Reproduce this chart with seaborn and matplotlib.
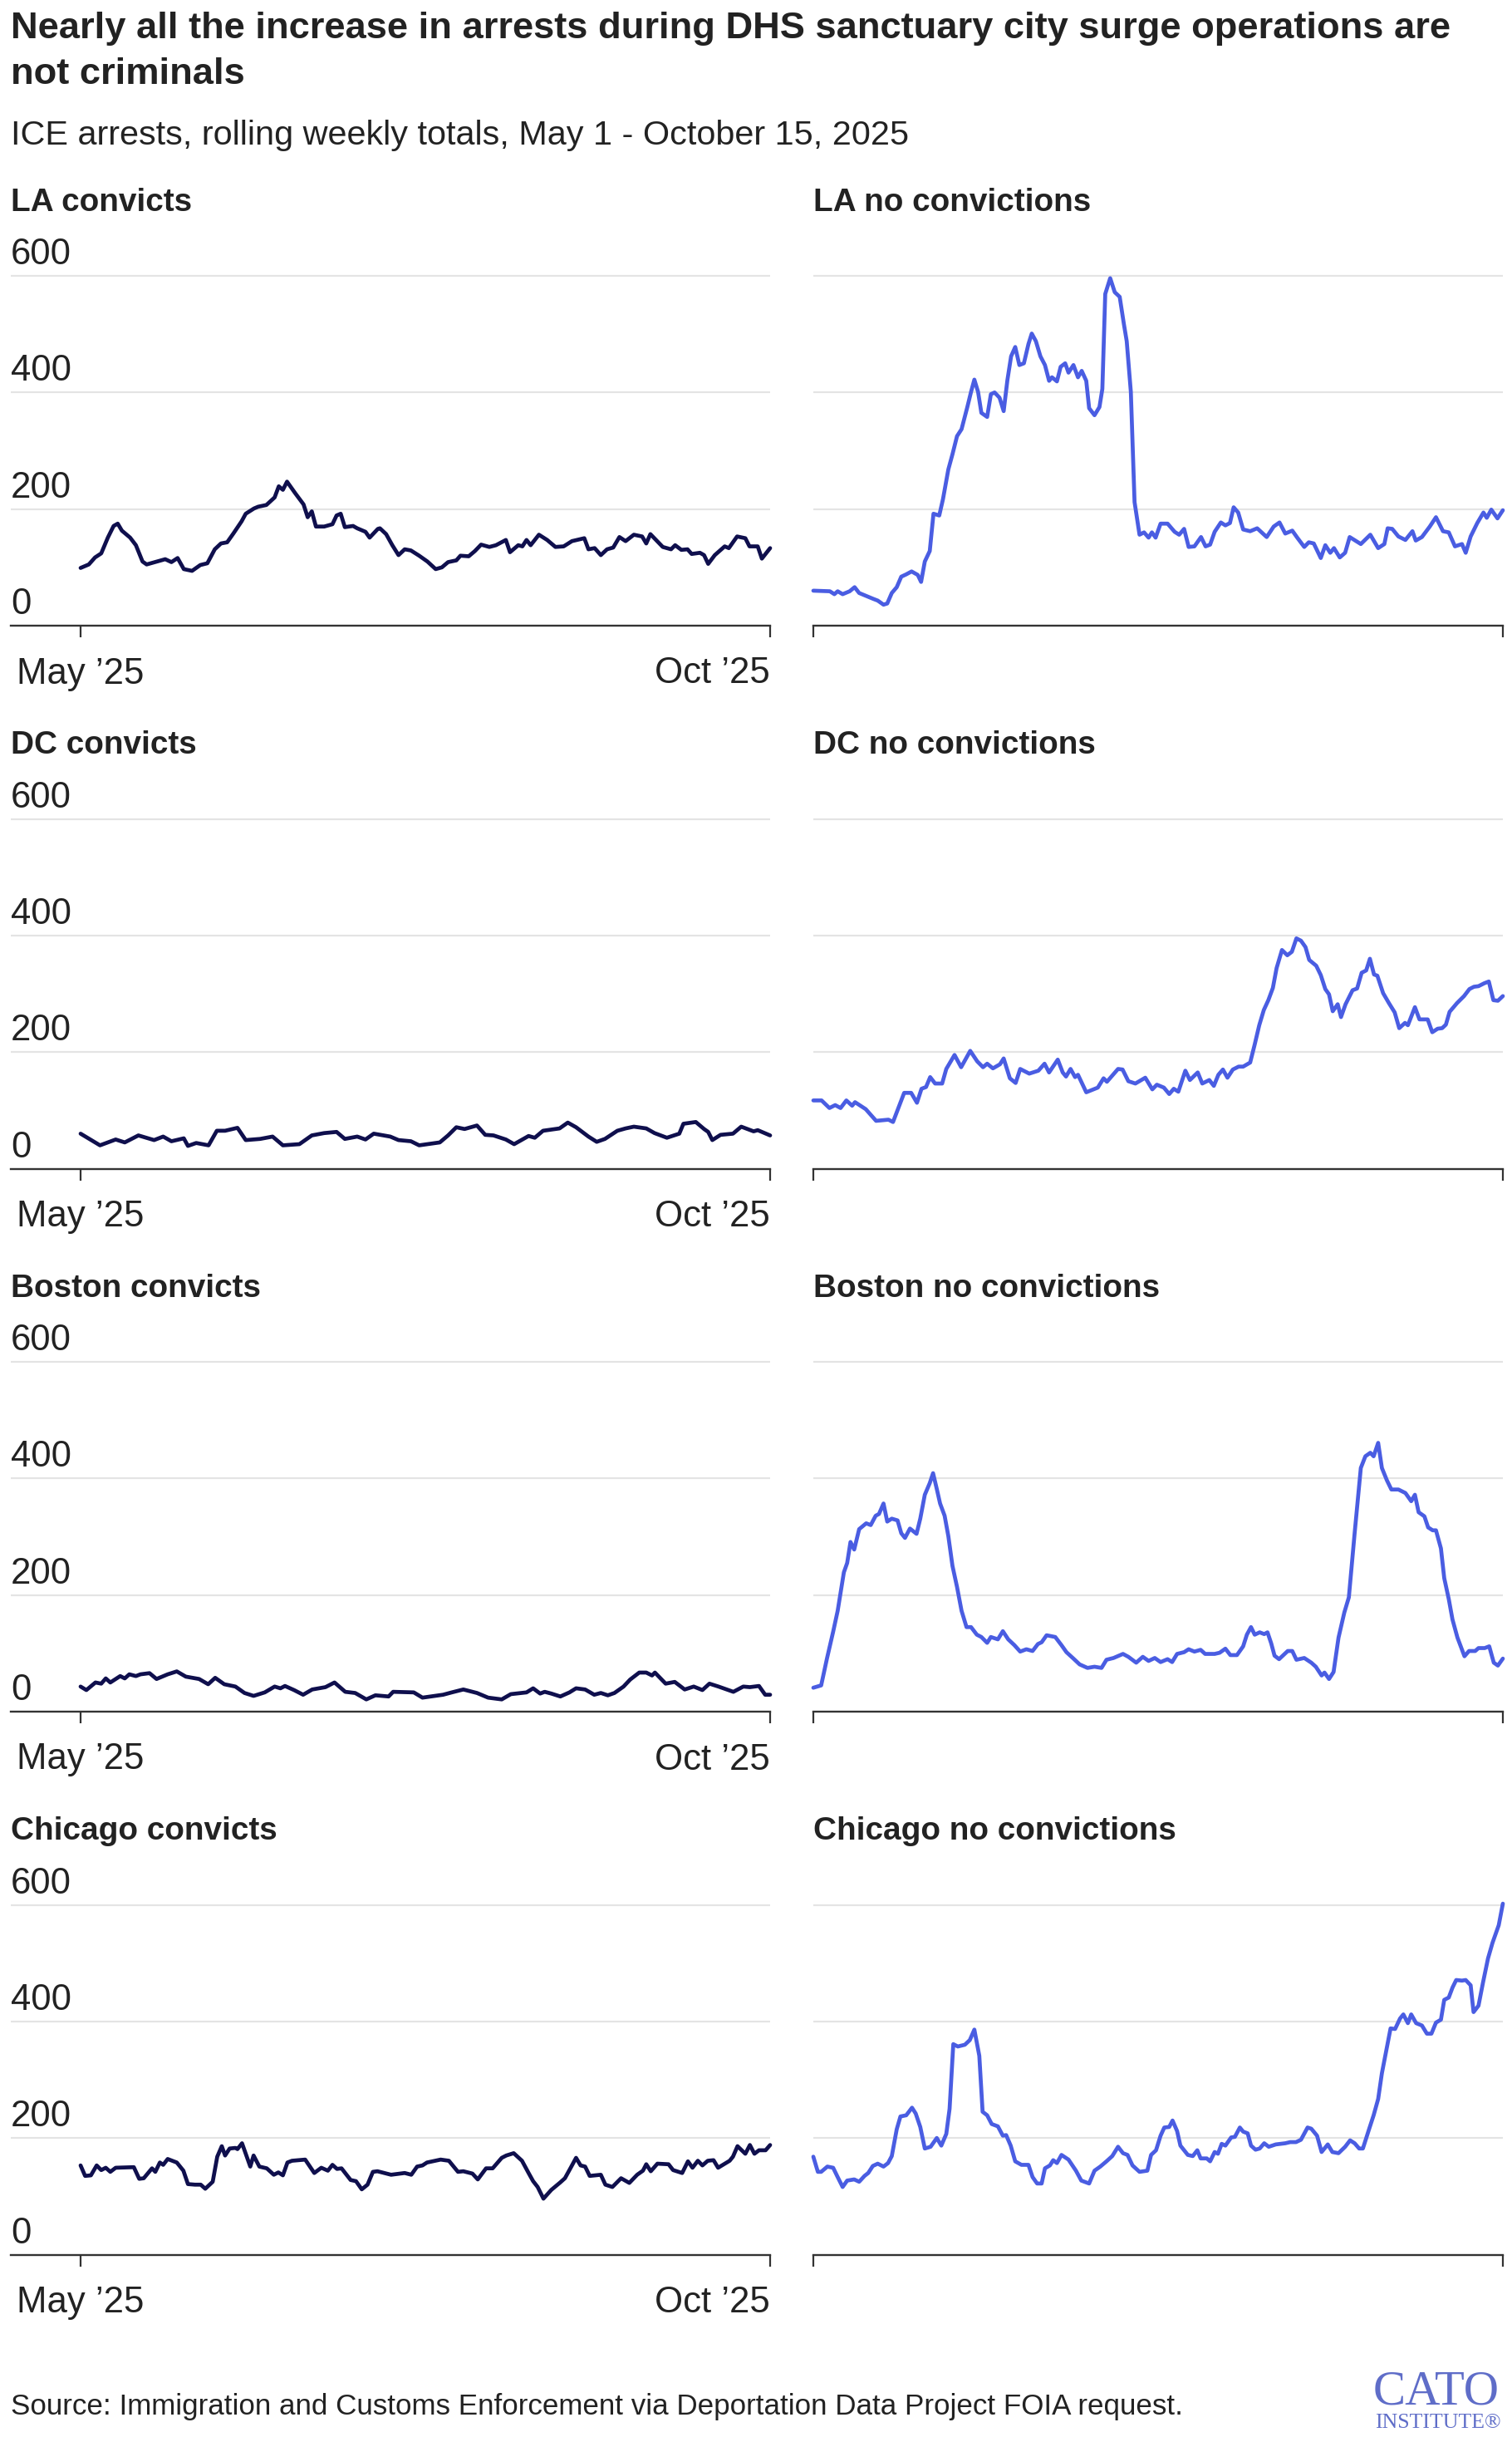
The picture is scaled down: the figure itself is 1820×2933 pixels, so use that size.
import numpy as np
import pandas as pd
import matplotlib
matplotlib.use("Agg")
import matplotlib.pyplot as plt
import seaborn as sns

sns.set_theme(style="white")
plt.rcParams["font.family"] = ["Liberation Sans", "DejaVu Sans"]

# ---------------- data (day offset from May 1, 2025 ; weekly arrests) ----------------
la_conv_days = [0, 2, 3.5, 5, 6.6, 8, 9, 10, 12, 13.4, 15, 16, 18, 20.5, 22, 23.5, 25, 27, 29, 30.7,
                32.5, 34, 35.5, 37, 39, 40, 42, 43, 45, 47, 48, 49, 50, 52, 54, 55, 56, 57, 59, 61,
                62, 63, 64, 66, 67, 69, 70, 72, 72.5, 74, 75.5, 77, 78.5, 80, 82, 84, 86, 87.5, 89, 91,
                92, 94, 95.5, 97, 99, 100.6, 103, 104, 106, 107, 108, 109, 111, 113, 115, 117, 119, 122, 123, 124.5,
                126, 127.5, 129, 130.5, 132, 134, 136, 137, 138, 141, 143, 144, 145.5, 147, 148, 150, 151, 152, 153.6, 156,
                157, 159, 161, 162, 164, 165, 167]
la_conv_vals = [99, 105, 117, 124, 151, 171, 175, 163, 151, 138, 110, 105, 109, 114, 109, 116, 97, 94, 104, 107,
                131, 141, 143, 158, 179, 192, 201, 204, 207, 220, 239, 233, 247, 227, 208, 186, 196, 170, 170, 174,
                189, 192, 169, 171, 167, 161, 151, 166, 167, 157, 138, 121, 131, 129, 120, 110, 97, 100, 109, 112,
                120, 119, 128, 139, 135, 138, 147, 126, 138, 136, 147, 138, 156, 147, 135, 136, 145, 150, 131, 133,
                121, 131, 134, 152, 145, 156, 153, 141, 157, 135, 131, 138, 130, 131, 123, 125, 121, 106, 121, 136,
                133, 153, 150, 136, 136, 115, 133]

la_noconv_days = [0, 4.0, 5.1, 5.9, 7.1, 8.8, 10.0, 11.1, 12.8, 14.5,
                  15.6, 17.0, 17.9, 19.0, 20.2, 21.3, 22.5, 23.8, 25.3, 26.1,
                  27.0, 28.2, 29.1, 30.5, 31.4, 32.7, 33.7, 34.8, 35.9, 37.3,
                  38.2, 39.0, 39.9, 40.7, 42.1, 43.0, 43.9, 45.1, 46.1, 47.0,
                  47.9, 48.9, 49.9, 51.0, 52.1, 52.9, 53.9, 55.0, 56.1, 57.1,
                  57.8, 59.0, 59.9, 61.0, 61.8, 63.0, 64.1, 65.0, 66.1, 66.8,
                  68.1, 69.3, 70.0, 70.7, 71.9, 73.0, 74.2, 75.2, 75.9, 76.9,
                  77.8, 79.0, 80.1, 81.2, 82.0, 82.9, 84.1, 85.8, 87.5, 88.6,
                  89.8, 90.9, 92.3, 93.9, 95.0, 96.1, 97.2, 98.7, 99.8, 100.9,
                  101.8, 102.9, 104.1, 105.8, 107.5, 109.8, 111.5, 112.9, 114.3, 116.0,
                  117.2, 118.9, 120.0, 121.2, 122.9, 124.0, 125.2, 126.1, 127.5, 128.8,
                  129.9, 132.6, 134.9, 136.8, 138.3, 139.1, 140.2, 141.7, 143.4, 145.1,
                  145.9, 147.4, 149.3, 150.8, 152.5, 153.9, 155.4, 157.1, 158.0, 159.2,
                  160.8, 162.3, 163.1, 164.2, 165.7, 167.0]
la_noconv_vals = [60, 59, 54, 59, 54, 59, 66, 56, 51, 46,
                  43, 36, 38, 56, 66, 84, 88, 93, 87, 75,
                  110, 128, 192, 189, 217, 268, 294, 325, 337, 375,
                  401, 422, 401, 365, 358, 397, 400, 391, 368, 421,
                  462, 478, 447, 450, 483, 501, 488, 462, 447, 420,
                  426, 419, 444, 450, 434, 447, 426, 437, 420, 373,
                  361, 375, 406, 569, 596, 572, 564, 518, 488, 401,
                  212, 156, 160, 151, 160, 151, 175, 175, 161, 156,
                  166, 135, 136, 152, 136, 139, 161, 177, 172, 176,
                  203, 194, 165, 162, 167, 152, 170, 177, 158, 163,
                  151, 135, 143, 141, 116, 138, 125, 133, 117, 125,
                  152, 140, 156, 133, 140, 167, 166, 153, 147, 162,
                  146, 152, 170, 186, 162, 160, 136, 140, 125, 153,
                  176, 194, 185, 199, 184, 198]

dc_conv_days = [0, 4.7, 8.5, 10.7, 14, 17.8, 20, 22, 25, 26, 28, 31, 33, 35, 38, 40, 43.5, 46.5, 49, 53,
                56, 59, 62, 64, 67, 69, 71, 75, 77, 80, 82, 87, 89, 91, 93, 96, 98, 100, 103, 105,
                108.5, 110, 112, 116, 118, 120, 123, 125, 127, 130, 132, 134, 137, 139, 142, 145, 146, 149, 151, 152,
                153, 155, 158, 160, 163, 164, 167]
dc_conv_vals = [60, 40, 50, 45, 57, 49, 55, 47, 52, 39, 44, 40, 65, 65, 70, 49, 51, 55, 40, 42,
                57, 61, 63, 51, 55, 50, 60, 55, 49, 47, 40, 45, 57, 71, 68, 74, 58, 57, 50, 42,
                56, 53, 65, 69, 79, 71, 55, 46, 51, 65, 69, 72, 69, 61, 53, 60, 77, 80, 68, 63,
                49, 58, 60, 72, 64, 66, 57]

dc_noconv_days = [0, 2.0, 3.9, 5.3, 6.6, 8.0, 9.4, 10.1, 12.7, 15.2,
                  18.2, 19.3, 22.0, 23.7, 25.1, 26.2, 27.3, 28.3, 29.5, 31.2,
                  32.2, 34.2, 35.8, 38.0, 39.7, 41.1, 42.1, 43.5, 45.2, 46.1,
                  47.6, 49.0, 50.1, 52.3, 54.5, 56.0, 57.1, 59.2, 60.4, 61.2,
                  62.3, 63.4, 64.1, 66.1, 68.9, 70.3, 71.1, 73.8, 74.9, 76.3,
                  78.0, 80.4, 82.1, 83.2, 84.9, 86.2, 87.3, 88.4, 90.1, 91.2,
                  93.1, 94.2, 95.9, 97.0, 98.1, 99.2, 100.3, 101.6, 103.0, 104.1,
                  105.8, 106.9, 108.0, 109.1, 110.2, 111.3, 112.2, 113.5, 114.8, 115.9,
                  117.0, 118.1, 119.2, 120.1, 121.8, 122.9, 124.0, 124.9, 125.8, 127.0,
                  127.8, 128.9, 130.6, 131.7, 132.8, 133.9, 134.8, 135.8, 136.6, 138.0,
                  139.4, 140.8, 141.9, 143.3, 144.0, 145.7, 146.8, 148.8, 149.9, 151.2,
                  152.3, 153.2, 154.1, 155.9, 157.6, 158.9, 160.0, 161.1, 162.5, 163.6,
                  164.7, 165.8, 167.0]
dc_noconv_vals = [117, 117, 104, 109, 104, 117, 108, 114, 102, 82,
                  84, 80, 130, 130, 113, 137, 140, 157, 146, 146,
                  171, 195, 174, 202, 184, 174, 180, 172, 179, 189,
                  155, 147, 171, 163, 168, 180, 165, 187, 165, 158,
                  171, 157, 161, 131, 139, 155, 149, 171, 170, 150,
                  146, 156, 136, 144, 139, 128, 137, 132, 168, 152,
                  165, 146, 152, 142, 161, 170, 156, 170, 175, 175,
                  182, 213, 246, 272, 289, 310, 344, 375, 366, 372,
                  395, 391, 380, 358, 348, 332, 308, 299, 270, 282,
                  260, 282, 306, 309, 336, 340, 360, 333, 331, 301,
                  284, 268, 241, 250, 246, 277, 256, 256, 234, 240,
                  241, 247, 269, 284, 296, 308, 312, 313, 318, 321,
                  289, 288, 296]

bos_conv_days = [0, 1.4, 3.6, 5.0, 6.1, 7.2, 9.6, 10.7, 11.8, 13.4,
                 14.5, 16.7, 18.4, 21.1, 23.3, 25.5, 28.7, 30.9, 32.6, 34.8,
                 37.5, 39.7, 41.9, 44.6, 47.0, 48.4, 49.5, 51.7, 53.9, 56.1,
                 59.3, 61.5, 64.1, 66.5, 69.2, 71.4, 74.6, 75.7, 80.7, 82.8,
                 87.8, 89.9, 92.7, 96.0, 98.7, 102.0, 104.2, 108.0, 109.6, 111.3,
                 112.4, 114.0, 116.2, 118.4, 120.0, 122.2, 124.4, 126.0, 127.7, 129.3,
                 131.5, 133.1, 135.3, 137.0, 138.4, 139.1, 141.7, 143.9, 146.3, 148.5,
                 150.6, 152.3, 154.5, 158.1, 160.5, 162.1, 164.3, 165.8, 167.0]
bos_conv_vals = [43, 37, 50, 48, 57, 50, 61, 57, 64, 61,
                 64, 66, 56, 64, 69, 60, 56, 47, 58, 47,
                 43, 32, 27, 33, 43, 40, 44, 37, 29, 38,
                 42, 50, 34, 32, 21, 28, 26, 34, 33, 24,
                 29, 33, 38, 32, 24, 21, 30, 33, 40, 31,
                 34, 31, 26, 33, 40, 38, 29, 32, 28, 32,
                 43, 55, 67, 67, 62, 67, 48, 51, 38, 43,
                 37, 48, 43, 34, 43, 42, 44, 29, 29]

bos_noconv_days = [0, 1.9, 3.3, 4.8, 5.9, 7.4, 8.2, 9.0, 9.9, 11.1,
                   12.8, 13.9, 15.1, 15.9, 17.0, 17.9, 19.0, 20.4, 21.3, 22.2,
                   23.4, 25.0, 25.9, 27.0, 28.2, 29.0, 29.9, 30.7, 31.8, 32.7,
                   33.7, 34.8, 35.9, 37.1, 38.2, 39.6, 40.7, 42.1, 43.0, 44.7,
                   45.9, 47.2, 48.7, 50.1, 51.6, 53.1, 54.4, 55.3, 56.5, 58.6,
                   60.1, 61.3, 63.0, 64.5, 66.4, 68.1, 69.8, 71.0, 72.7, 75.0,
                   76.3, 78.2, 79.8, 81.2, 82.7, 84.1, 85.8, 86.9, 88.1, 89.8,
                   90.9, 92.3, 93.8, 94.9, 97.2, 98.4, 99.8, 101.0, 102.6, 104.1,
                   105.0, 106.0, 106.9, 108.1, 109.2, 110.0, 110.9, 111.7, 112.8, 114.9,
                   116.0, 117.0, 118.9, 120.6, 121.7, 123.1, 123.8, 124.9, 126.0, 127.2,
                   128.6, 129.7, 131.1, 132.6, 133.7, 134.9, 135.7, 136.8, 137.7, 138.9,
                   140.0, 141.7, 143.4, 144.8, 145.7, 146.6, 148.0, 148.9, 150.0, 150.8,
                   152.0, 152.8, 153.9, 154.8, 156.0, 157.7, 158.8, 160.3, 161.1, 162.6,
                   163.7, 164.8, 165.8, 167.0]
bos_noconv_vals = [41, 45, 91, 137, 173, 239, 255, 291, 278, 313,
                   323, 320, 336, 339, 357, 326, 331, 328, 306, 298,
                   314, 305, 331, 372, 392, 409, 382, 357, 336, 301,
                   250, 214, 173, 145, 145, 132, 128, 118, 128, 124,
                   138, 124, 114, 103, 107, 104, 116, 119, 131, 128,
                   114, 102, 91, 81, 75, 77, 75, 89, 92, 99,
                   94, 84, 94, 87, 92, 85, 90, 85, 99, 102,
                   107, 103, 106, 99, 99, 101, 108, 97, 97, 112,
                   132, 145, 132, 136, 133, 136, 117, 96, 90, 104,
                   104, 89, 92, 84, 77, 62, 67, 56, 68, 127,
                   170, 196, 306, 418, 438, 444, 438, 461, 418, 397,
                   381, 381, 375, 361, 372, 342, 335, 316, 311, 311,
                   280, 229, 193, 158, 127, 95, 104, 104, 109, 109,
                   112, 84, 79, 91]

chi_conv_days = [0, 1.1, 2.5, 3.9, 5.0, 6.1, 7.2, 8.5, 12.9, 14.2,
                 15.3, 17.3, 18.1, 19.2, 20.0, 21.1, 23.3, 24.9, 26.0, 27.7,
                 29.1, 30.2, 32.0, 33.1, 34.2, 35.0, 36.1, 37.5, 38.0, 39.1,
                 40.0, 41.1, 41.9, 43.3, 45.1, 46.8, 47.9, 49.0, 50.1, 51.2,
                 54.4, 56.6, 58.3, 59.9, 61.0, 62.1, 63.2, 65.4, 66.7, 68.1,
                 69.5, 70.8, 71.9, 75.2, 78.5, 80.1, 81.5, 82.8, 83.9, 87.2,
                 89.2, 91.4, 92.7, 94.9, 96.2, 98.2, 99.8, 102.0, 103.1, 104.9,
                 106.9, 108.5, 109.6, 110.7, 112.1, 114.0, 116.2, 117.3, 118.7, 120.0,
                 121.1, 122.2, 123.3, 126.0, 127.1, 128.8, 130.9, 132.9, 134.8, 136.2,
                 137.0, 138.1, 139.7, 142.4, 143.5, 145.7, 147.1, 148.2, 149.5, 150.6,
                 151.9, 153.3, 154.4, 157.2, 158.0, 159.1, 161.0, 162.1, 163.2, 164.3,
                 165.9, 167.0]
chi_conv_vals = [153, 135, 136, 153, 145, 149, 142, 149, 150, 130,
                 131, 148, 142, 158, 154, 164, 158, 144, 121, 120,
                 120, 113, 125, 168, 186, 170, 182, 183, 181, 191,
                 173, 151, 170, 151, 148, 137, 141, 136, 158, 161,
                 163, 140, 149, 144, 154, 147, 148, 128, 126, 112,
                 120, 142, 143, 137, 140, 137, 151, 153, 158, 163,
                 161, 142, 143, 139, 129, 148, 148, 166, 170, 174,
                 161, 140, 126, 116, 96, 111, 124, 131, 149, 166,
                 153, 151, 135, 137, 120, 116, 131, 123, 137, 144,
                 155, 143, 156, 155, 145, 140, 160, 149, 161, 153,
                 161, 162, 149, 161, 168, 186, 173, 188, 173, 179,
                 179, 188]

chi_noconv_days = [0, 1.1, 1.9, 3.4, 4.8, 5.9, 7.1, 8.2, 9.9, 11.1,
                   12.4, 13.3, 14.4, 15.6, 17.0, 18.1, 19.0, 20.2, 21.1, 22.5,
                   23.9, 24.8, 25.9, 27.0, 28.4, 29.9, 31.0, 32.2, 33.0, 33.9,
                   35.0, 36.7, 37.9, 39.0, 40.2, 41.0, 42.1, 43.2, 44.7, 45.9,
                   46.7, 47.8, 48.9, 50.4, 52.1, 53.1, 54.2, 55.3, 56.1, 57.3,
                   58.1, 59.0, 60.1, 61.8, 63.6, 64.9, 66.8, 68.1, 69.5, 71.0,
                   72.4, 73.8, 75.0, 76.1, 77.3, 79.0, 80.9, 81.8, 83.0, 84.1,
                   85.0, 86.2, 87.0, 88.1, 88.9, 90.7, 91.9, 93.0, 93.8, 95.3,
                   96.1, 97.2, 98.0, 98.9, 99.8, 101.2, 102.1, 103.3, 104.1, 105.2,
                   106.0, 107.1, 108.1, 109.2, 110.3, 112.0, 114.3, 115.5, 116.9, 118.1,
                   119.7, 120.6, 122.0, 123.1, 124.6, 125.7, 127.2, 128.8, 130.0, 131.1,
                   132.2, 133.1, 134.5, 135.7, 136.8, 137.7, 138.9, 139.8, 140.9, 142.1,
                   142.9, 144.0, 144.8, 146.0, 147.4, 148.6, 149.7, 150.8, 152.0, 152.8,
                   153.9, 154.8, 155.7, 157.1, 158.0, 159.2, 159.9, 161.1, 162.2, 163.4,
                   164.5, 166.0, 167.0]
chi_noconv_vals = [168, 142, 142, 151, 149, 133, 116, 127, 129, 125,
                   135, 140, 152, 156, 151, 157, 169, 215, 237, 239,
                   252, 242, 219, 182, 185, 200, 187, 207, 250, 361,
                   357, 360, 368, 386, 341, 245, 239, 224, 220, 204,
                   205, 187, 160, 154, 154, 133, 122, 122, 148, 153,
                   162, 157, 171, 163, 144, 127, 122, 144, 151, 160,
                   169, 185, 174, 171, 153, 142, 144, 171, 179, 204,
                   218, 219, 230, 212, 187, 171, 169, 179, 165, 165,
                   160, 176, 173, 190, 187, 201, 202, 218, 211, 208,
                   187, 180, 182, 191, 185, 189, 191, 193, 193, 197,
                   218, 216, 204, 176, 189, 176, 174, 185, 196, 191,
                   182, 182, 213, 239, 267, 311, 355, 388, 387, 405,
                   412, 397, 412, 397, 393, 379, 379, 398, 403, 437,
                   441, 458, 471, 470, 471, 462, 416, 427, 467, 508,
                   535, 565, 602]

panel_titles = ["LA convicts", "LA no convictions", "DC convicts", "DC no convictions",
                "Boston convicts", "Boston no convictions", "Chicago convicts", "Chicago no convictions"]
series_days = [la_conv_days, la_noconv_days, dc_conv_days, dc_noconv_days,
               bos_conv_days, bos_noconv_days, chi_conv_days, chi_noconv_days]
series_vals = [la_conv_vals, la_noconv_vals, dc_conv_vals, dc_noconv_vals,
               bos_conv_vals, bos_noconv_vals, chi_conv_vals, chi_noconv_vals]
y_ticks = [0, 200, 400, 600]
x_tick_labels = ["May \u201925", "Oct \u201925"]

title_lines = ["Nearly all the increase in arrests during DHS sanctuary city surge operations are",
               "not criminals"]
subtitle = "ICE arrests, rolling weekly totals, May 1 - October 15, 2025"
source = "Source: Immigration and Customs Enforcement via Deportation Data Project FOIA request."

START = pd.Timestamp("2025-05-01")
END = pd.Timestamp("2025-10-15")

# ---------------- style ----------------
NAVY = "#0f0f4d"
BLUE = "#4a5de2"
TXT = "#222222"
GRID = "#e4e4e4"
AXC = "#333333"
LOGO = "#5f6dc8"

W, H = 1820, 2933
fig = plt.figure(figsize=(W / 100, H / 100), dpi=100)
fig.patch.set_facecolor("white")
renderer = fig.canvas.get_renderer()

def fit(t, target):
    w = t.get_window_extent(renderer).width
    t.set_fontsize(t.get_fontsize() * target / w)
    return t

def fy(y):
    return 1 - y / H

YMAX = 615
ROW_PITCH = 653.5
AXIS0 = 753
GRID_H = 421  # px between 0 and 600
TICK_FS = 31.5

# titles
t1 = fig.text(13 / W, fy(46), title_lines[0], fontsize=30, fontweight="bold", color=TXT, va="baseline")
fit(t1, 1733)
fig.text(13 / W, fy(101), title_lines[1], fontsize=t1.get_fontsize(), fontweight="bold", color=TXT, va="baseline")
st = fig.text(13 / W, fy(174), subtitle, fontsize=26, color=TXT, va="baseline")
fit(st, 1080)

# panel title size from the longest one
probe = fig.text(0, 0, panel_titles[7], fontsize=28, fontweight="bold")
fit(probe, 437)
PT_FS = probe.get_fontsize()
probe.remove()

for i, (name, days, vals) in enumerate(zip(panel_titles, series_days, series_vals)):
    r, c = divmod(i, 2)
    axis_y = AXIS0 + r * ROW_PITCH
    top_y = axis_y - GRID_H * YMAX / 600
    if c == 0:
        x0, x1 = 13, 927
        xmin = START - pd.Timedelta(days=16.9)
        color = NAVY
    else:
        x0, x1 = 979, 1809
        xmin = START
        color = BLUE
    ax = fig.add_axes([x0 / W, fy(axis_y), (x1 - x0) / W, (axis_y - top_y) / H])
    df = pd.DataFrame({"date": START + pd.to_timedelta(days, unit="D"), "arrests": vals})
    sns.lineplot(data=df, x="date", y="arrests", ax=ax, color=color, linewidth=3.4,
                 estimator=None, clip_on=False, solid_joinstyle="round", solid_capstyle="round")
    ax.set_xlim(xmin, END)
    ax.set_ylim(0, YMAX)
    ax.set_yticks(y_ticks[1:])
    ax.grid(axis="y", color=GRID, linewidth=1.6)
    ax.grid(axis="x", visible=False)
    ax.set_axisbelow(True)
    ax.tick_params(axis="y", length=0, labelleft=False)
    for s in ["top", "left", "right"]:
        ax.spines[s].set_visible(False)
    ax.spines["bottom"].set_color(AXC)
    ax.spines["bottom"].set_linewidth(1.7)
    ax.set_facecolor("none")
    ax.set_xticks([START, END])
    ax.tick_params(axis="x", direction="out", length=10, width=1.6, color=AXC, pad=17,
                   labelsize=TICK_FS, labelcolor=TXT, bottom=True)
    if c == 0:
        ax.set_xticklabels(x_tick_labels)
        ax.get_xticklabels()[1].set_ha("right")
        for v in y_ticks:
            ax.annotate(str(v), xy=(0, v), xycoords=("axes fraction", "data"),
                        xytext=(0, 10), textcoords="offset points", ha="left", va="baseline",
                        fontsize=TICK_FS, color=TXT)
    else:
        ax.set_xticklabels(["", ""])
    ax.set_xlabel("")
    ax.set_ylabel("")
    fig.text(x0 / W, fy(254 + r * ROW_PITCH), name, fontsize=PT_FS, fontweight="bold",
             color=TXT, va="baseline")

# source
src = fig.text(13 / W, fy(2906), source, fontsize=24, color=TXT, va="baseline")
fit(src, 1412)

# logo
serif = ["Liberation Serif", "DejaVu Serif"]
cato = fig.text(1653 / W, fy(2894), "CATO", fontsize=40, color=LOGO, va="baseline", family=serif)
fit(cato, 152)
inst = fig.text(1655 / W, fy(2922), "INSTITUTE\u00ae", fontsize=14, color=LOGO, va="baseline", family=serif)
fit(inst, 152)

fig.savefig("out.png", dpi=100, facecolor="white")
